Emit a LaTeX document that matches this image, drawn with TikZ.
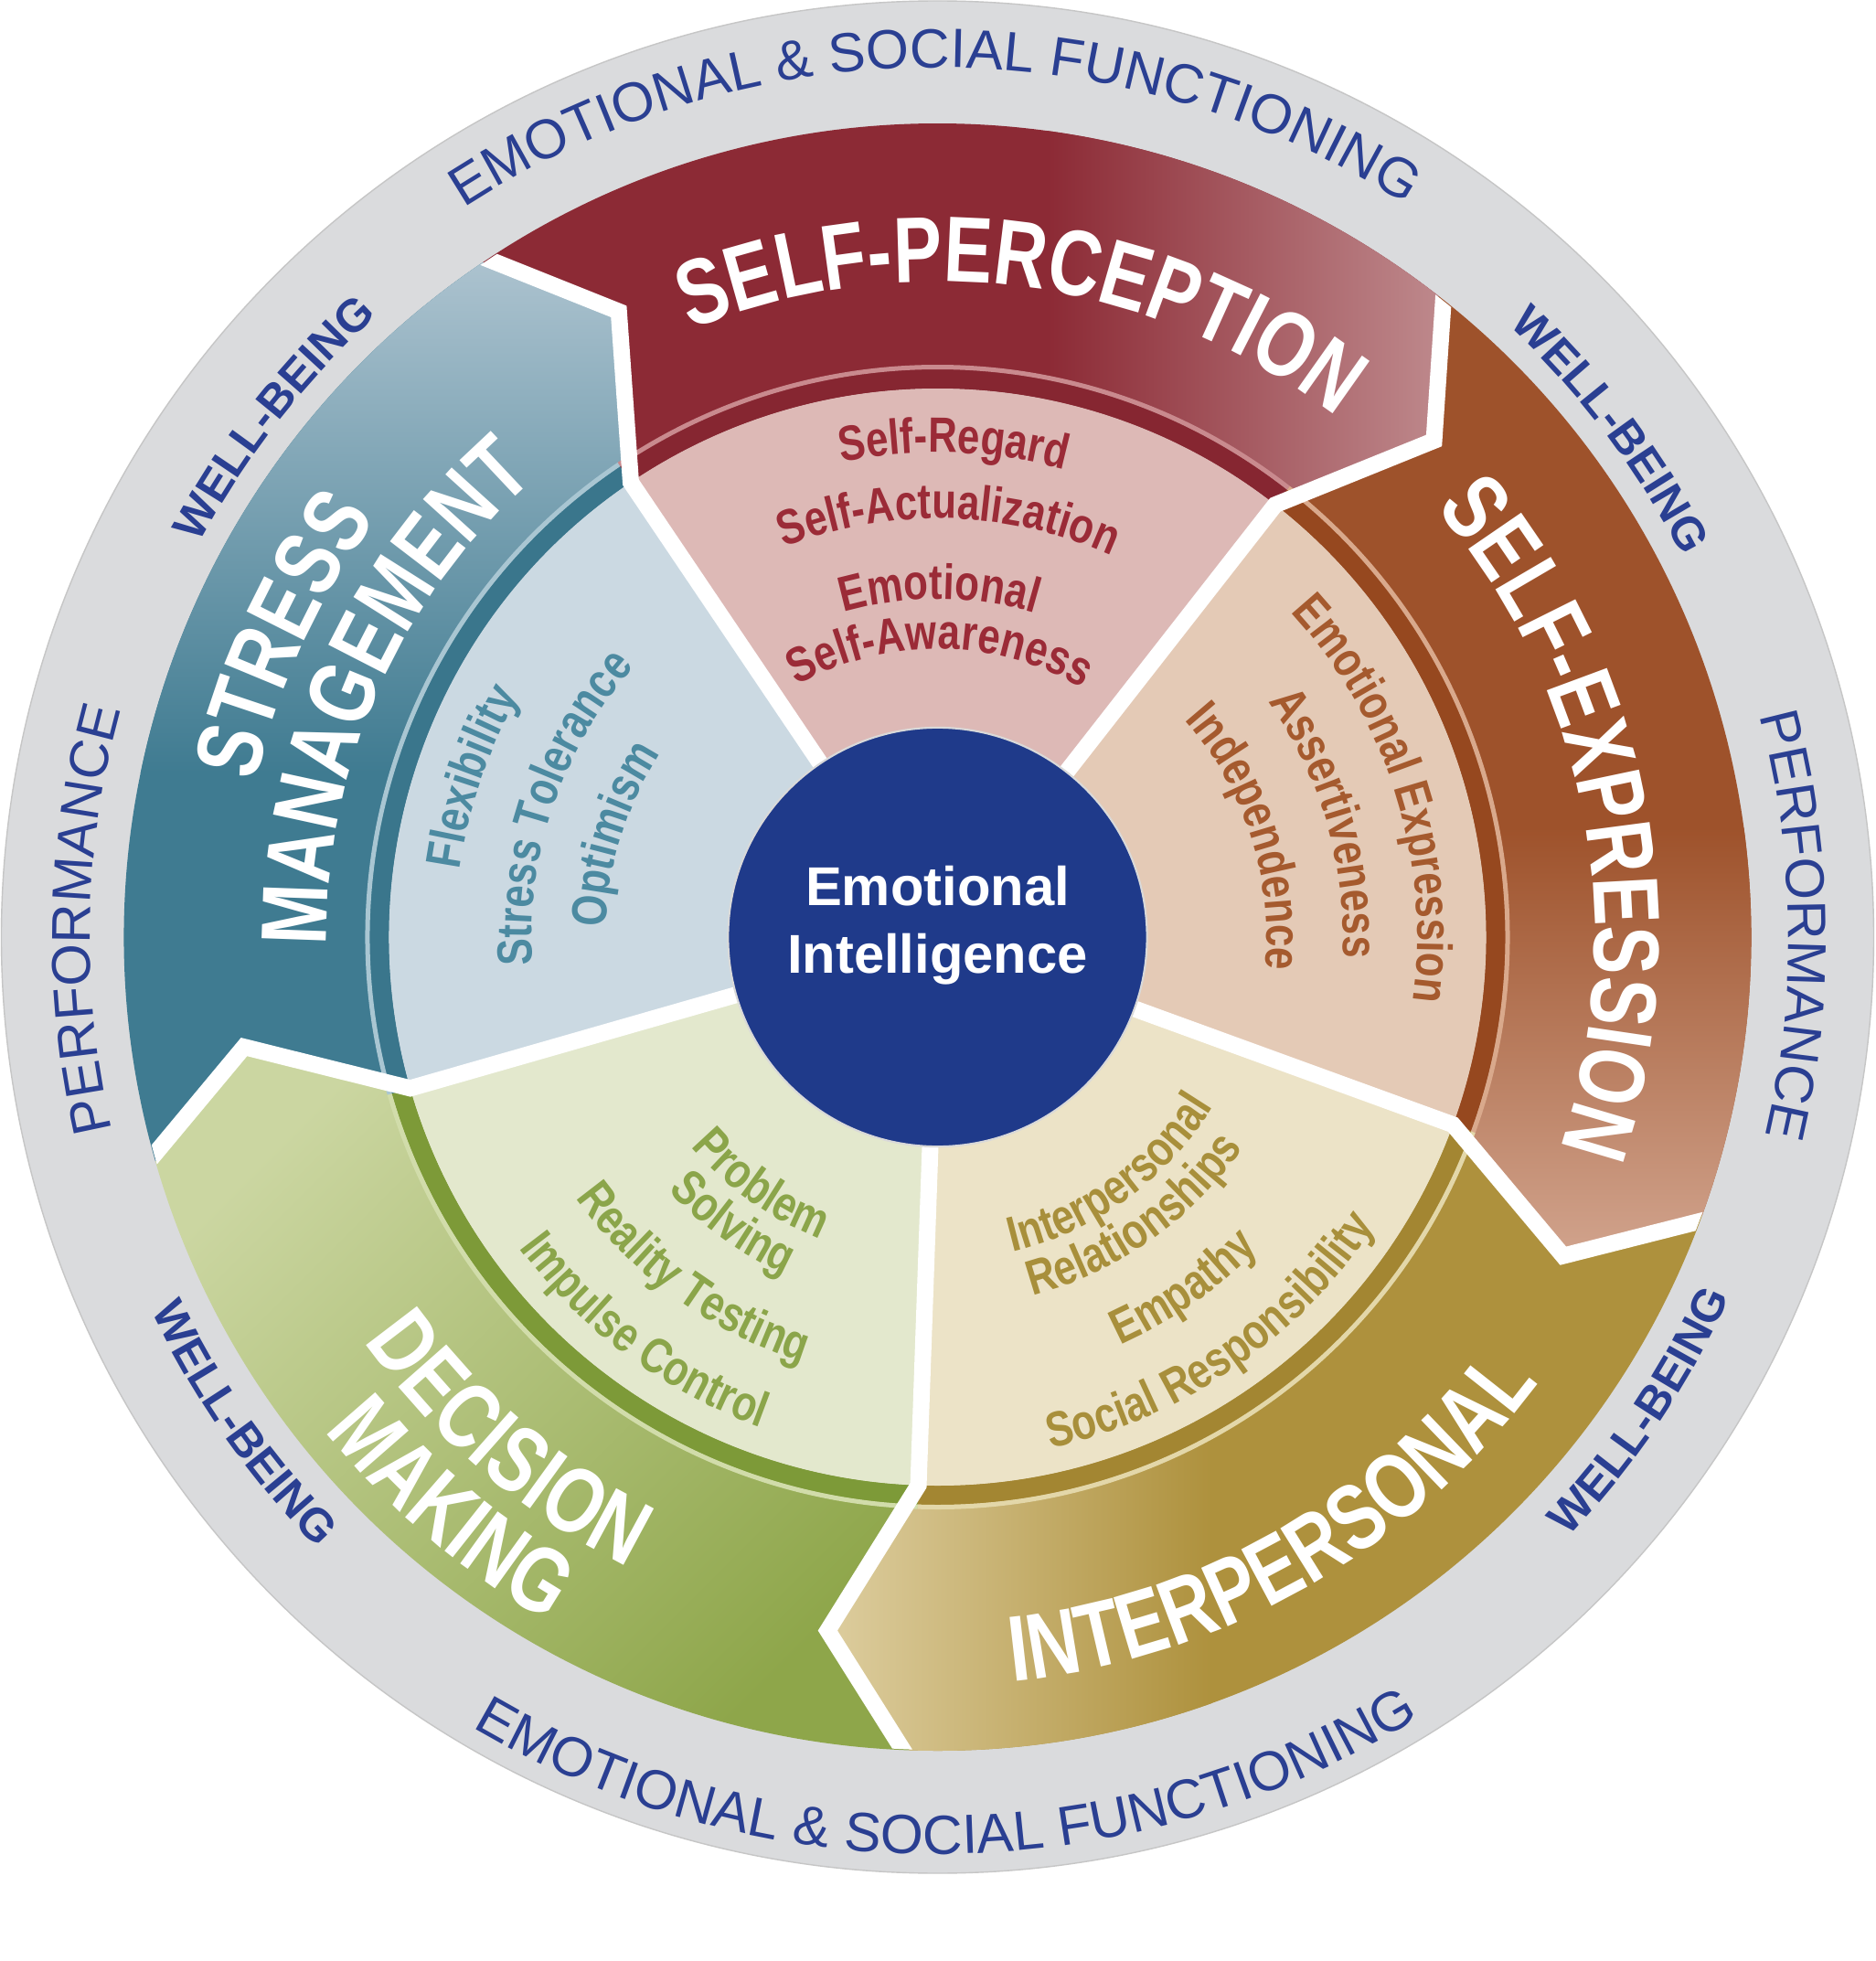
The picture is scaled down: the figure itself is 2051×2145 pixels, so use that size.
\documentclass[tikz,border=0pt]{standalone}
\usepackage{fontspec}
\setmainfont{Liberation Sans}
\newfontfamily\catfont[FakeStretch=0.78]{Liberation Sans}
\newfontfamily\itemfont[FakeStretch=0.81]{Liberation Sans}
\usetikzlibrary{decorations.text}

\definecolor{ringgray}{HTML}{DADBDD}
\definecolor{ringblue}{HTML}{2A3F92}
\definecolor{coreblue}{HTML}{1F3A8A}
% self-perception
\definecolor{spband}{HTML}{8C2A35}
\definecolor{splight}{HTML}{C6989A}
\definecolor{spdark}{HTML}{862631}
\definecolor{spline}{HTML}{C98A8E}
\definecolor{spwedge}{HTML}{DDB9B6}
\definecolor{sptext}{HTML}{9B2B37}
% self-expression
\definecolor{seband}{HTML}{9E522B}
\definecolor{selight}{HTML}{D2A58F}
\definecolor{sedark}{HTML}{96481F}
\definecolor{seline}{HTML}{D9A98C}
\definecolor{sewedge}{HTML}{E4CAB6}
\definecolor{setext}{HTML}{A55A2E}
% interpersonal
\definecolor{ipband}{HTML}{AE913D}
\definecolor{iplight}{HTML}{DFD0A3}
\definecolor{ipdark}{HTML}{A38632}
\definecolor{ipline}{HTML}{E3D7A9}
\definecolor{ipwedge}{HTML}{ECE3C7}
\definecolor{iptext}{HTML}{A88F3B}
% decision making
\definecolor{dmband}{HTML}{8EA64A}
\definecolor{dmlight}{HTML}{CBD6A1}
\definecolor{dmdark}{HTML}{7D9A38}
\definecolor{dmline}{HTML}{D1DCAA}
\definecolor{dmwedge}{HTML}{E3E8CD}
\definecolor{dmtext}{HTML}{8BA54A}
% stress management
\definecolor{smband}{HTML}{3F7B91}
\definecolor{smlight}{HTML}{B0C5D1}
\definecolor{smdark}{HTML}{3A768C}
\definecolor{smline}{HTML}{A9C6D2}
\definecolor{smwedge}{HTML}{CBD9E2}
\definecolor{smtext}{HTML}{4C8AA1}

% text on arcs: centre angle, radius, half span, format, text
\newcommand\cwtext[5]{%
  \path[decorate, decoration={text along path, text align=center, text={|#4|#5}}]
    ({#1+#3}:#2) arc[start angle={#1+#3}, end angle={#1-#3}, radius=#2];}
\newcommand\ccwtext[5]{%
  \path[decorate, decoration={text along path, text align=center, text={|#4|#5}}]
    ({#1-#3}:#2) arc[start angle={#1-#3}, end angle={#1+#3}, radius=#2];}

\newcommand\ringfmt{\color{ringblue}\fontsize{17.2}{20}\selectfont}
\newcommand\perffmt{\color{ringblue}\fontsize{17}{20}\selectfont}
\newcommand\wellfmt{\color{ringblue}\bfseries\fontsize{14.3}{17}\selectfont}
\newcommand\catfmt{\color{white}\catfont\bfseries\fontsize{29}{31}\selectfont}
\newcommand\itemfmt[1]{\color{#1}\itemfont\bfseries\fontsize{15.4}{17}\selectfont}

\begin{document}
\begin{tikzpicture}[x=0.01cm, y=0.01cm,
    bandpath/.style={insert path={({#1+36}:890) arc[start angle={#1+36}, end angle={#1-36}, radius=890]
      -- ({#1-43}:768) -- ({#1-36}:600) arc[start angle={#1-36}, end angle={#1+36}, radius=600]
      -- ({#1+29}:768) -- cycle}},
    ringpath/.style={insert path={({#1+36}:600) arc[start angle={#1+36}, end angle={#1-36}, radius=600]
      -- ({#1-36}:621) arc[start angle={#1-36}, end angle={#1+36}, radius=621] -- cycle}},
    wedgepath/.style={insert path={(0,0) -- ({#1+36}:600) arc[start angle={#1+36}, end angle={#1-36}, radius=600] -- cycle}},
    separator/.style={draw=white, line width=0.18cm, line join=miter},
    core/.style={circle, fill=coreblue, draw=white!70!gray, line width=0.6pt, minimum size=4.58cm, inner sep=0pt},
    coretext/.style={text=white, font=\bfseries\fontsize{17}{21}\selectfont, align=center}
  ]
  \fill[white] (-1025.5,-1120) rectangle (1025.5,1025);
  \useasboundingbox (-1025.5,-1120) rectangle (1025.5,1025);
  \fill[ringgray, draw=gray!45, line width=0.4pt] (0,0) circle (1024);

  % outer bands
  \fill[spband, bandpath=88];
  \begin{scope}
    \clip[bandpath=88];
    \shade[left color=spband, right color=splight] (120,0) rectangle (620,1000);
    \fill[splight] (620,0) rectangle (1000,1000);
  \end{scope}
  \fill[seband, bandpath=16];
  \begin{scope}
    \clip[bandpath=16];
    \shade[top color=seband, bottom color=selight] (0,-360) rectangle (1000,120);
  \end{scope}
  \fill[ipband, bandpath=-56];
  \begin{scope}
    \clip[bandpath=-56];
    \shade[left color=iplight, right color=ipband] (-140,-1000) rectangle (300,0);
  \end{scope}
  \shade[top color=dmlight, bottom color=dmband, shading angle=45, bandpath=-128];
  \fill[smband, bandpath=160];
  \begin{scope}
    \clip[bandpath=160];
    \shade[top color=smlight, bottom color=smband] (-950,180) rectangle (-250,760);
  \end{scope}

  % inner rings and wedges
  \foreach \c/\k in {88/sp, 16/se, -56/ip, -128/dm, 160/sm} {
    \fill[\k dark, ringpath=\c];
    \draw[\k line, line width=0.05cm] ({\c+36}:623.5) arc[start angle={\c+36}, end angle={\c-36}, radius=623.5];
    \fill[\k wedge, wedgepath=\c];
  }

  \begin{scope}
    \clip (0,0) circle (889);
    \foreach \b in {52,124,196,268,340}
      \draw[separator] (0,0) -- (\b:600) -- ({\b-7}:768) -- (\b:900);
  \end{scope}

  \node[core] (ei) at (0,0) {};
  \node[coretext] (eitext) at ([yshift=0.13cm]ei.center) {Emotional\\Intelligence};

  % grey ring
  \cwtext{90.2}{951}{75}{\ringfmt}{EMOTIONAL {\&} SOCIAL FUNCTIONING}
  \ccwtext{270.6}{1003}{75}{\ringfmt}{EMOTIONAL {\&} SOCIAL FUNCTIONING}
  \cwtext{178.8}{927}{30}{\perffmt}{PERFORMANCE}
  \cwtext{0.8}{931}{30}{\perffmt}{PERFORMANCE}
  \cwtext{142}{915}{25}{\wellfmt}{WELL-BEING}
  \cwtext{37}{915}{25}{\wellfmt}{WELL-BEING}
  \ccwtext{215}{952}{25}{\wellfmt}{WELL-BEING}
  \ccwtext{326}{952}{25}{\wellfmt}{WELL-BEING}

  % composite labels
  \cwtext{82.3}{717}{50}{\catfmt}{SELF-PERCEPTION}
  \cwtext{11}{719}{50}{\catfmt}{SELF-EXPRESSION}
  \ccwtext{-60.4}{818}{45}{\catfmt}{INTERPERSONAL}
  \ccwtext{229.5}{768}{40}{\catfmt}{DECISION}
  \ccwtext{229.6}{861}{40}{\catfmt}{MAKING}
  \cwtext{155.3}{765}{40}{\catfmt}{STRESS}
  \cwtext{156}{668}{40}{\catfmt}{MANAGEMENT}

  % subscales
  \cwtext{88.1}{530}{40}{\itemfmt{sptext}}{Self-Regard}
  \cwtext{88.5}{458}{40}{\itemfmt{sptext}}{Self-Actualization}
  \cwtext{89.7}{370}{40}{\itemfmt{sptext}}{Emotional}
  \cwtext{89.5}{315}{50}{\itemfmt{sptext}}{Self-Awareness}
  \cwtext{17.5}{525}{40}{\itemfmt{setext}}{Emotional Expression}
  \cwtext{16.3}{444}{40}{\itemfmt{setext}}{Assertiveness}
  \cwtext{17.9}{360}{40}{\itemfmt{setext}}{Independence}
  \ccwtext{-54.1}{354}{40}{\itemfmt{iptext}}{Interpersonal}
  \ccwtext{-54.9}{406}{40}{\itemfmt{iptext}}{Relationships}
  \ccwtext{-55}{489}{40}{\itemfmt{iptext}}{Empathy}
  \ccwtext{-55.5}{573}{40}{\itemfmt{iptext}}{Social Responsibility}
  \ccwtext{234.6}{354}{40}{\itemfmt{dmtext}}{Problem}
  \ccwtext{234.5}{405}{40}{\itemfmt{dmtext}}{Solving}
  \ccwtext{234.1}{488}{40}{\itemfmt{dmtext}}{Reality Testing}
  \ccwtext{233.4}{570}{40}{\itemfmt{dmtext}}{Impulse Control}
  \cwtext{161}{528}{40}{\itemfmt{smtext}}{Flexibility}
  \cwtext{161.1}{444}{40}{\itemfmt{smtext}}{Stress Tolerance}
  \cwtext{162.4}{363}{40}{\itemfmt{smtext}}{Optimism}
\end{tikzpicture}
\end{document}
